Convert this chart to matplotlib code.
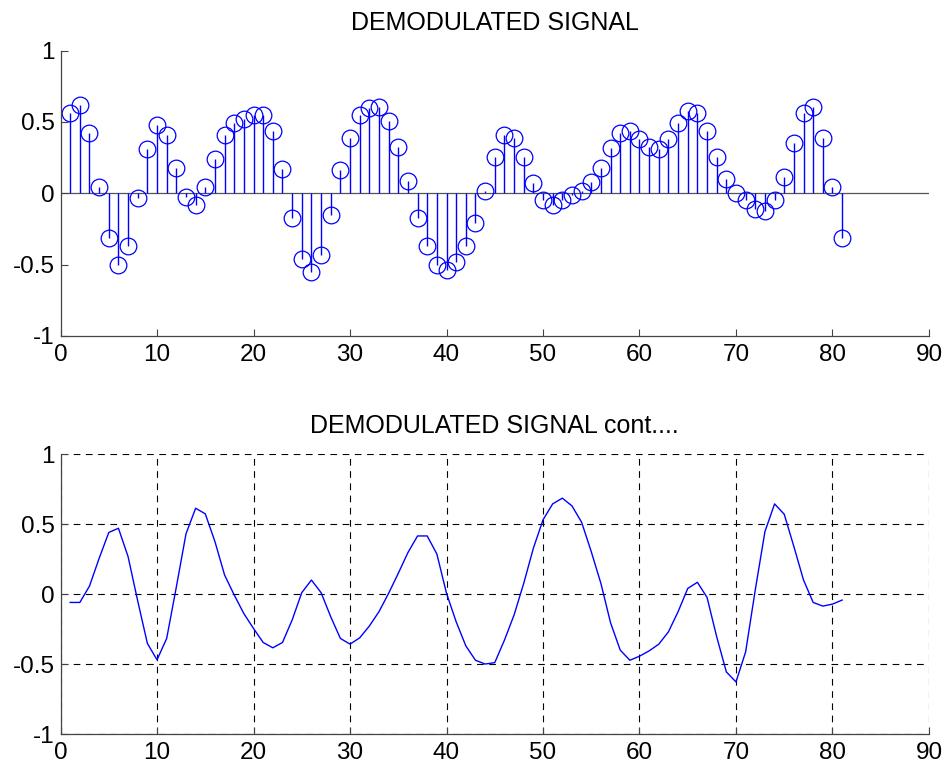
import numpy as np
import matplotlib
matplotlib.use("Agg")
import matplotlib.pyplot as plt

# sample index for both traces
n = np.arange(1, 82)

# demodulated samples (stem plot)
demod = [
    0.56, 0.62, 0.42, 0.044, -0.31, -0.50, -0.37, -0.035, 0.31, 0.48,
    0.41, 0.18, -0.023, -0.08, 0.047, 0.24, 0.41, 0.49, 0.52, 0.55,
    0.55, 0.435, 0.17, -0.175, -0.46, -0.55, -0.43, -0.15, 0.16, 0.39,
    0.55, 0.60, 0.605, 0.505, 0.326, 0.086, -0.175, -0.37, -0.50, -0.535,
    -0.484, -0.37, -0.205, 0.019, 0.256, 0.407, 0.39, 0.256, 0.074, -0.05,
    -0.08, -0.05, -0.012, 0.019, 0.077, 0.175, 0.314, 0.424, 0.435, 0.38,
    0.326, 0.31, 0.38, 0.49, 0.577, 0.56, 0.435, 0.256, 0.10, 0.005,
    -0.05, -0.11, -0.123, -0.05, 0.116, 0.35, 0.56, 0.605, 0.39, 0.047,
    -0.314,
]

# continuous version of the demodulated signal
demod_cont = [
    -0.06, -0.06, 0.057, 0.255, 0.44, 0.47, 0.267, -0.05, -0.353, -0.47,
    -0.317, 0.05, 0.43, 0.613, 0.573, 0.375, 0.136, -0.007, -0.14, -0.246,
    -0.346, -0.384, -0.346, -0.186, 0.01, 0.10, 0.01, -0.162, -0.317, -0.358,
    -0.313, -0.229, -0.126, 0.005, 0.148, 0.296, 0.415, 0.415, 0.286, 0.005,
    -0.198, -0.37, -0.473, -0.50, -0.49, -0.33, -0.15, 0.076, 0.327, 0.53,
    0.644, 0.685, 0.63, 0.513, 0.303, 0.076, -0.205, -0.40, -0.473, -0.444,
    -0.406, -0.358, -0.27, -0.126, 0.04, 0.084, -0.024, -0.305, -0.556, -0.628,
    -0.413, 0.03, 0.446, 0.644, 0.57, 0.339, 0.10, -0.06, -0.086, -0.072,
    -0.043,
]

xticks = np.arange(0, 91, 10)
yticks = [-1, -0.5, 0, 0.5, 1]
ytick_labels = ["-1", "-0.5", "0", "0.5", "1"]

plt.rcParams["font.family"] = ["Liberation Sans", "DejaVu Sans"]
plt.rcParams["font.size"] = 17


def style_axes(ax):
    ax.set_xlim(0, 90)
    ax.set_ylim(-1, 1)
    ax.set_xticks(xticks)
    ax.set_yticks(yticks)
    ax.set_yticklabels(ytick_labels)
    ax.spines["top"].set_visible(False)
    ax.spines["right"].set_visible(False)
    for s in ("left", "bottom"):
        ax.spines[s].set_color("#444444")
        ax.spines[s].set_linewidth(0.9)
    ax.tick_params(direction="in", length=5, width=0.8, color="#444444",
                   labelsize=17.5)
    ax.tick_params(axis="x", pad=6)
    ax.tick_params(axis="y", pad=4)


def main():
    fig = plt.figure(figsize=(9.46, 7.67), dpi=100)

    ax1 = fig.add_axes([0.064, 0.562, 0.918, 0.372])
    markers, stems, base = ax1.stem(n, demod, basefmt=" ")
    plt.setp(stems, color="#0000ff", linewidth=1.0)
    plt.setp(markers, marker="o", markerfacecolor="none",
             markeredgecolor="#0000ff", markersize=12, markeredgewidth=0.9)
    ax1.axhline(0, color="#555555", linewidth=0.9, zorder=0)
    style_axes(ax1)
    ax1.set_title("DEMODULATED SIGNAL", fontsize=18, pad=15)

    ax2 = fig.add_axes([0.064, 0.043, 0.918, 0.365])
    ax2.plot(n, demod_cont, color="#0000ff", linewidth=1.0)
    style_axes(ax2)
    ax2.grid(True, color="black", linestyle=(0, (6, 5)), linewidth=0.8)
    ax2.set_title("DEMODULATED SIGNAL cont....", fontsize=18, pad=15)

    fig.savefig("out.png", dpi=100)


if __name__ == "__main__":
    main()
